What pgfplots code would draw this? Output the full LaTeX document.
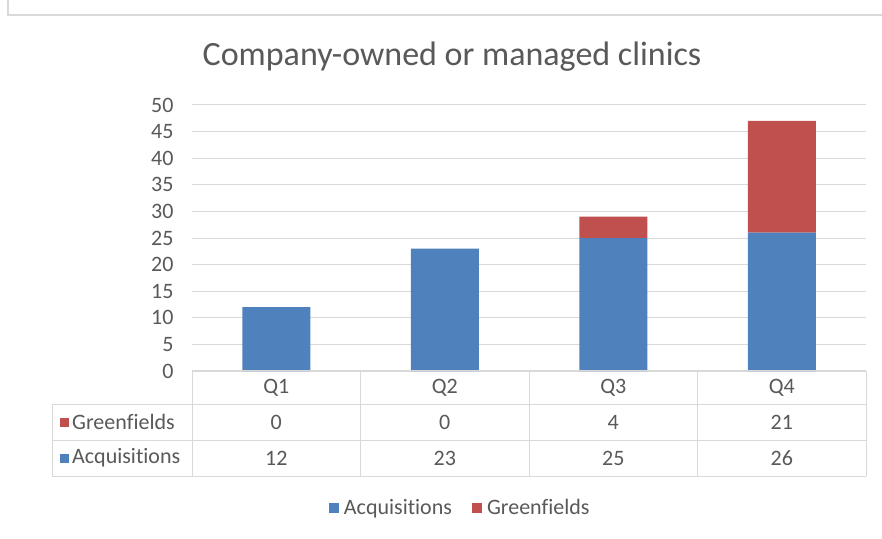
\documentclass[border=0pt]{standalone}
\usepackage{fontspec}
\setmainfont{Carlito}[Ligatures=NoCommon]
\usepackage{pgfplots}
\pgfplotsset{compat=1.18}
\definecolor{acq}{HTML}{4F81BD}
\definecolor{grn}{HTML}{C0504D}
\definecolor{txt}{HTML}{595959}
\definecolor{grd}{HTML}{D9D9D9}
\newcommand{\sz}{\fontsize{22}{26}\selectfont}
\begin{document}
\begin{tikzpicture}[x=1pt,y=1pt]
\useasboundingbox (0,0) rectangle (882,538);
\fill[white] (0,0) rectangle (882,538);
\draw[grd, line width=1.2] (8,538) -- (8,523) -- (882,523);
\node[text=txt, font=\fontsize{34}{40}\selectfont] at (452,481) {Company-owned or managed clinics};
\begin{axis}[
  at={(192pt,167pt)}, anchor=south west, scale only axis,
  width=674pt, height=266pt,
  ybar stacked, bar width=68pt,
  xmin=-0.5, xmax=3.5, ymin=0, ymax=50,
  ytick={0,5,...,50},
  xtick={0,1,2,3}, xticklabels={Q1,Q2,Q3,Q4},
  /pgf/number format/assume math mode=true,
  ticklabel style={font=\sz, text=txt},
  yticklabel style={xshift=-15pt},
  xticklabel style={anchor=center, yshift=-17pt},
  major tick length=0pt,
  axis line style={draw=none},
  ymajorgrids, grid style={grd, line width=1pt},
  legend style={at={(0.398,-0.515)}, anchor=center, draw=none, fill=none,
    legend columns=2, font=\sz, text=txt,
    /tikz/every odd column/.append style={column sep=3pt},
    /tikz/every even column/.append style={column sep=18pt}},
  legend image code/.code={\fill[#1] (0pt,-5pt) rectangle (10pt,5pt);},
]
\addplot[fill=acq, draw=none] coordinates {(0,12) (1,23) (2,25) (3,26)};
\addlegendentry{Acquisitions}
\addplot[fill=grn, draw=none] coordinates {(0,0) (1,0) (2,4) (3,21)};
\addlegendentry{Greenfields}
\end{axis}
% data table
\draw[grd, line width=1] (192,167) -- (866,167);
\foreach \x in {192,360.5,529,697.5,866} \draw[grd, line width=1] (\x,167) -- (\x,62);
\foreach \y in {133.5,98,62} \draw[grd, line width=1] (52,\y) -- (866,\y);
\draw[grd, line width=1] (52,133.5) -- (52,62);
\fill[grn] (60,111) rectangle (69,120);
\node[anchor=west, text=txt, font=\sz, inner sep=0pt] at (72,116) {Greenfields};
\fill[acq] (60,75) rectangle (69,84);
\node[anchor=west, text=txt, font=\sz, inner sep=0pt] at (72,80) {Acquisitions};
\foreach \x/\g/\a in {276.25/0/12, 444.75/0/23, 613.25/4/25, 781.75/21/26} {
  \node[text=txt, font=\sz] at (\x,116) {\g};
  \node[text=txt, font=\sz] at (\x,80) {\a};
}
\end{tikzpicture}
\end{document}
